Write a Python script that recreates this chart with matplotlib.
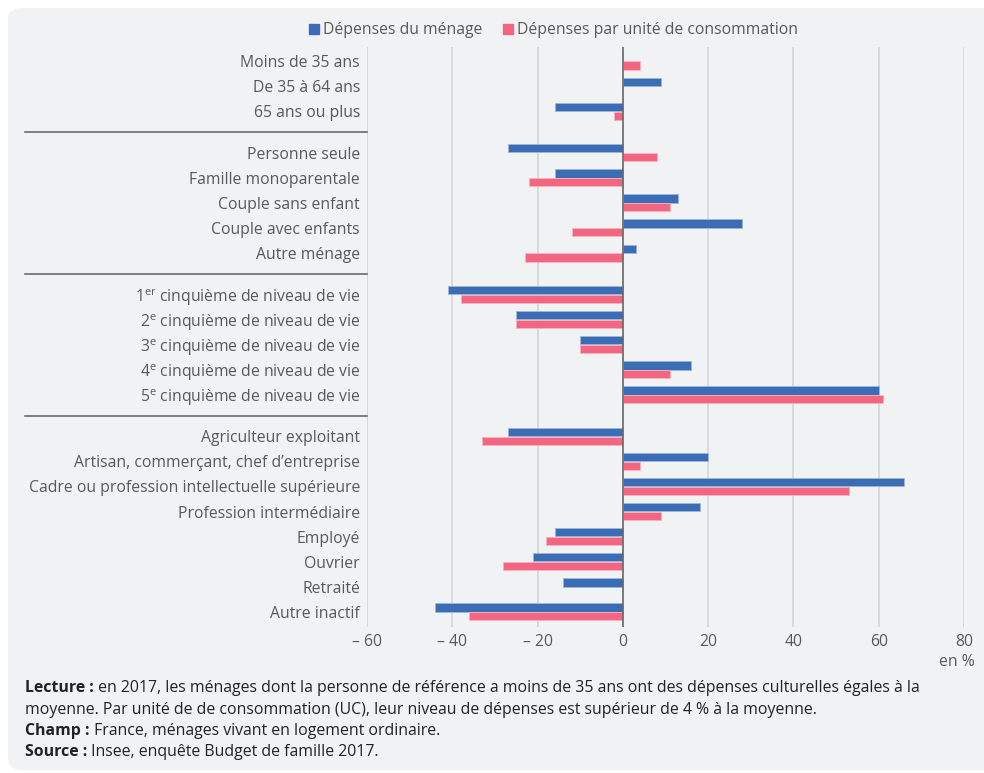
import matplotlib
matplotlib.use("Agg")
import matplotlib.pyplot as plt
from matplotlib.lines import Line2D
from matplotlib.patches import FancyBboxPatch
import matplotlib.transforms as mtransforms

plt.rcParams['font.family'] = ['Open Sans', 'DejaVu Sans']

# ---- data ----
groups = [
    ["Moins de 35 ans", "De 35 à 64 ans", "65 ans ou plus"],
    ["Personne seule", "Famille monoparentale", "Couple sans enfant",
     "Couple avec enfants", "Autre ménage"],
    ["1$^{\\mathregular{er}}$ cinquième de niveau de vie",
     "2$^{\\mathregular{e}}$ cinquième de niveau de vie",
     "3$^{\\mathregular{e}}$ cinquième de niveau de vie",
     "4$^{\\mathregular{e}}$ cinquième de niveau de vie",
     "5$^{\\mathregular{e}}$ cinquième de niveau de vie"],
    ["Agriculteur exploitant", "Artisan, commerçant, chef d’entreprise",
     "Cadre ou profession intellectuelle supérieure", "Profession intermédiaire",
     "Employé", "Ouvrier", "Retraité", "Autre inactif"],
]
menage = [0, 9, -16,
          -27, -16, 13, 28, 3,
          -41, -25, -10, 16, 60,
          -27, 20, 66, 18, -16, -21, -14, -44]
par_uc = [4, 0, -2,
          8, -22, 11, -12, -23,
          -38, -25, -10, 11, 61,
          -33, 4, 53, 9, -18, -28, 0, -36]
series_names = ["Dépenses du ménage", "Dépenses par unité de consommation"]
xticks = [-60, -40, -20, 0, 20, 40, 60, 80]
xticklabels = ["– 60", "– 40", "– 20", "0", "20", "40", "60", "80"]

BLUE = "#3a6db5"
PINK = "#f26682"
TXT = "#595959"
FS = 11.3

W, H = 984, 773
fig = plt.figure(figsize=(W / 100, H / 100), dpi=100)
fig.patch.set_facecolor("white")
bg = FancyBboxPatch((8 / W, 3 / H), 1.2, (770 - 8) / H,
                    boxstyle="round,pad=0,rounding_size=0.015",
                    transform=fig.transFigure, facecolor="#f1f2f4",
                    edgecolor="none", zorder=-10)
fig.patches.append(bg)

ax = fig.add_axes([367 / W, 1 - 627 / H, (964 - 367) / W, (627 - 47) / H])
ax.set_facecolor("none")

# positions
gap = 1.65
labels, ypos, seps = [], [], []
y = 0.0
for gi, g in enumerate(groups):
    if gi > 0:
        seps.append(y - 1 + gap / 2)
        y += gap - 1
    for lab in g:
        labels.append(lab)
        ypos.append(y)
        y += 1

h = 0.33
off = 0.175
ax.barh([p - off for p in ypos], menage, height=h, color=BLUE,
        edgecolor="#9fb6dc", linewidth=0.6, zorder=3)
ax.barh([p + off for p in ypos], par_uc, height=h, color=PINK,
        edgecolor="#f8b3c0", linewidth=0.6, zorder=3)

ax.set_ylim(ypos[-1] + 0.6, ypos[0] - 0.56)
ax.set_xlim(-60, 80)
ax.set_xticks(xticks)
ax.set_xticklabels(xticklabels, fontsize=FS, color=TXT)
ax.set_yticks(ypos)
ax.set_yticklabels(labels, fontsize=FS, color=TXT)
ax.tick_params(axis="y", length=0, pad=5)
ax.tick_params(axis="x", length=0, pad=5)
for s in ax.spines.values():
    s.set_visible(False)
ax.grid(axis="x", color="#d3d4d7", linewidth=1.2, zorder=0)
ax.axvline(0, color="#6b6b6b", linewidth=1.2, zorder=4)

# separators
tr = mtransforms.blended_transform_factory(fig.transFigure, ax.transData)
for s in seps:
    fig.add_artist(Line2D([25 / W, 367 / W], [s, s], transform=tr,
                          color="#6b6b6b", linewidth=1.2))

# legend
handles = [Line2D([], [], marker="s", linestyle="none", markersize=6.5,
                  color=BLUE),
           Line2D([], [], marker="s", linestyle="none", markersize=6.5,
                  color=PINK)]
fig.legend(handles, series_names, loc="center",
           bbox_to_anchor=(553 / W, 1 - 30 / H), ncol=2, frameon=False,
           fontsize=FS, labelcolor=TXT, handletextpad=0.2,
           columnspacing=1.2, handlelength=0.8)

fig.text(975 / W, 1 - 662 / H, "en %", ha="right", va="center",
         fontsize=FS, color=TXT)

notes = [
    ("Lecture :", " en 2017, les ménages dont la personne de référence a moins de 35 ans ont des dépenses culturelles égales à la"),
    ("", "moyenne. Par unité de de consommation (UC), leur niveau de dépenses est supérieur de 4 % à la moyenne."),
    ("Champ :", " France, ménages vivant en logement ordinaire."),
    ("Source :", " Insee, enquête Budget de famille 2017."),
]
ys = [688, 710, 731, 752]
FN = 11.4
pairs = []
for (b, t), yy in zip(notes, ys):
    x0 = 25 / W
    if b:
        tb = fig.text(x0, 1 - yy / H, b, ha="left", va="center",
                      fontsize=FN, fontweight="bold", color="#222222")
        tt = fig.text(x0, 1 - yy / H, t, ha="left", va="center",
                      fontsize=FN, color="#222222")
        pairs.append((tb, tt))
    else:
        fig.text(x0, 1 - yy / H, t, ha="left", va="center",
                 fontsize=FN, color="#222222")

fig.canvas.draw()
renderer = fig.canvas.get_renderer()
for tb, tt in pairs:
    bb = tb.get_window_extent(renderer)
    tt.set_transform(mtransforms.offset_copy(
        fig.transFigure, fig=fig, x=bb.width, y=0, units="dots"))

fig.savefig("out.png", dpi=100)
